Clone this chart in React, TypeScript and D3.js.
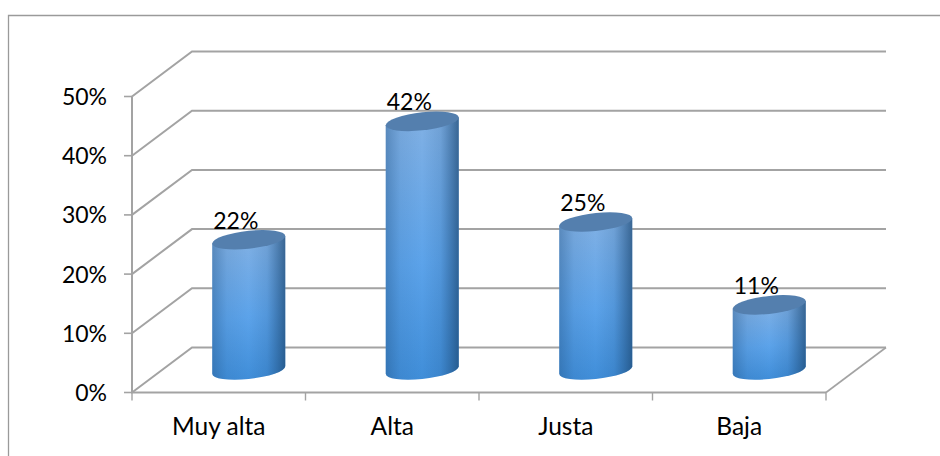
import React from "react";
import * as d3 from "d3";

const categories = ["Muy alta", "Alta", "Justa", "Baja"];
const values = [22, 42, 25, 11];
const yTicks = [0, 10, 20, 30, 40, 50];

const W = 940;
const H = 456;
const FONT = "Lato, Carlito, Calibri, sans-serif";
const GRID = "#a3a3a3";
const DEPTH_X = 60;
const DEPTH_Y = -45;

// Front plane of the 3D box; the back wall is this plane shifted by the depth vector.
const x = d3.scaleBand<string>().domain(categories).range([132, 826]);
const y = d3.scaleLinear().domain([0, 50]).range([392.5, 96.5]);

const RX = 36.5;
const RY = 9;
const SHEAR = -6;

// The cylinder is sheared about its axis so the caps keep vertical tangents at the sides.
function Cylinder({ cx, top, bottom }: { cx: number; top: number; bottom: number }) {
  const body = d3.path();
  body.moveTo(cx - RX, top);
  body.lineTo(cx + RX, top);
  body.lineTo(cx + RX, bottom);
  const d = `${body.toString()} A${RX},${RY} 0 0 1 ${cx - RX},${bottom} Z`;
  return (
    <g transform={`translate(${cx} 0) skewY(${SHEAR}) translate(${-cx} 0)`}>
      <path d={d} fill="url(#cylVertical)" />
      <path d={d} fill="url(#cylEdges)" />
      <ellipse cx={cx} cy={top} rx={RX} ry={RY} fill="#547fae" />
    </g>
  );
}

export default function App() {
  const x0 = x.range()[0];
  const x1 = x.range()[1];
  return (
    <svg
      width={W}
      height={H}
      style={{ position: "absolute", left: 0, top: 0, background: "#fff" }}
    >
      <defs>
        <linearGradient id="cylVertical" x1="0" y1="0" x2="0" y2="1">
          <stop offset="0" stopColor="#80b0e4" />
          <stop offset="0.55" stopColor="#5ca3ea" />
          <stop offset="1" stopColor="#408ed9" />
        </linearGradient>
        <linearGradient id="cylEdges" x1="0" y1="0" x2="1" y2="0">
          <stop offset="0" stopColor="#1f4f80" stopOpacity="0.4" />
          <stop offset="0.2" stopColor="#1f4f80" stopOpacity="0.1" />
          <stop offset="0.5" stopColor="#1f4f80" stopOpacity="0" />
          <stop offset="0.75" stopColor="#1f4f80" stopOpacity="0.15" />
          <stop offset="1" stopColor="#1b4670" stopOpacity="0.7" />
        </linearGradient>
      </defs>

      <path d={`M8.5,${H}V15.5H${W}`} fill="none" stroke="#9a9a9a" strokeWidth={1.3} />

      {/* Back wall gridlines and their diagonal returns to the front axis */}
      {yTicks.map((t) => (
        <path
          key={t}
          d={`M${x0},${y(t)}L${x0 + DEPTH_X},${y(t) + DEPTH_Y}H${x1 + DEPTH_X}`}
          fill="none"
          stroke={GRID}
          strokeWidth={2}
        />
      ))}

      {/* Floor edge on the right side */}
      <path
        d={`M${x1},${y(0)}L${x1 + DEPTH_X},${y(0) + DEPTH_Y}`}
        fill="none"
        stroke={GRID}
        strokeWidth={1.6}
      />

      {/* Front axes with tick marks */}
      <path
        d={`M${x0},${y(50)}V${y(0)}H${x1}`}
        fill="none"
        stroke={GRID}
        strokeWidth={2}
      />
      {yTicks.map((t) => (
        <line key={t} x1={x0 - 8} x2={x0} y1={y(t)} y2={y(t)} stroke={GRID} strokeWidth={1.6} />
      ))}
      {[...categories.map((c) => x(c) as number), x1].map((px) => (
        <line key={px} x1={px} x2={px} y1={y(0)} y2={y(0) + 8} stroke={GRID} strokeWidth={1.4} />
      ))}

      {values.map((v, i) => {
        const c = categories[i];
        const cx = (x(c) as number) + x.bandwidth() / 2 + DEPTH_X / 2;
        return (
          <Cylinder key={c} cx={cx} top={y(v) + DEPTH_Y / 2} bottom={y(0) + DEPTH_Y / 2} />
        );
      })}

      <g fontFamily={FONT} fontSize={23} fill="#000">
        {yTicks.map((t) => (
          <text key={t} x={107} y={y(t) + 8.5} textAnchor="end">
            {t}%
          </text>
        ))}
        {categories.map((c) => (
          <text
            key={c}
            x={(x(c) as number) + x.bandwidth() / 2}
            y={435}
            fontSize={24.5}
            textAnchor="middle"
          >
            {c}
          </text>
        ))}
        {values.map((v, i) => {
          const c = categories[i];
          const cx = (x(c) as number) + x.bandwidth() / 2 + DEPTH_X / 2;
          return (
            <text key={c} x={cx - 13} y={y(v) + DEPTH_Y / 2 - 11} textAnchor="middle">
              {v}%
            </text>
          );
        })}
      </g>
    </svg>
  );
}
